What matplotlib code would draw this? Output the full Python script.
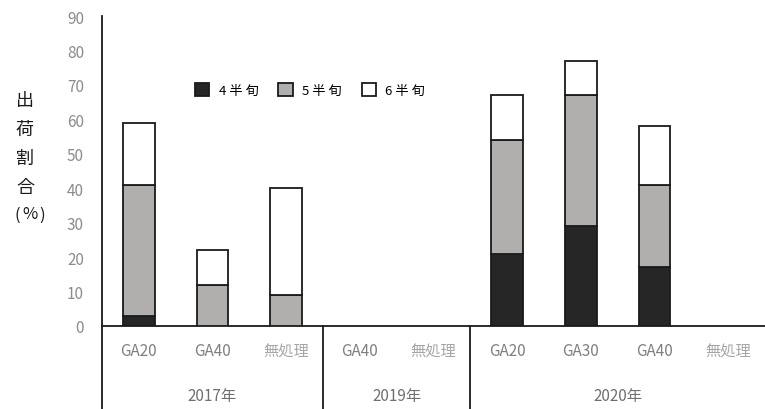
import matplotlib
matplotlib.use("Agg")
import matplotlib.pyplot as plt
from matplotlib.patches import Patch
import matplotlib.transforms as mtransforms
import numpy as np

plt.rcParams['font.family'] = ['Noto Sans CJK JP', 'DejaVu Sans']

# Data
categories = ["GA20", "GA40", "無処理", "GA40", "無処理", "GA20", "GA30", "GA40", "無処理"]
years = ["2017年", "2019年", "2020年"]
year_sizes = [3, 2, 4]
half4 = [3, 0, 0, 0, 0, 21, 29, 17, 0]
half5 = [38, 12, 9, 0, 0, 33, 38, 24, 0]
half6 = [18, 10, 31, 0, 0, 13, 10, 17, 0]
series_names = ["4 半 旬", "5 半 旬", "6 半 旬"]
yticks = list(range(0, 100, 10))

colors = ["#262626", "#b1aeae", "#ffffff"]

fig = plt.figure(figsize=(7.65, 4.1), dpi=100)
ax = fig.add_axes([102 / 765, 83 / 410, 663 / 765, 310 / 410])

x = np.arange(len(categories))
w = 0.43
b4 = np.array(half4)
b5 = np.array(half5)
b6 = np.array(half6)
for vals, bottom, c in [(b4, 0, colors[0]), (b5, b4, colors[1]), (b6, b4 + b5, colors[2])]:
    mask = vals > 0
    ax.bar(x[mask], vals[mask], width=w, bottom=(bottom if np.isscalar(bottom) else bottom[mask]),
           color=c, edgecolor="#1a1a1a", linewidth=1.3, zorder=3)

ax.set_xlim(-0.5, len(categories) - 0.5)
ax.set_ylim(0, 90)
ax.set_yticks(yticks)
ax.set_yticklabels([str(t) for t in yticks], color="#8c8c8c", fontsize=11)
ax.tick_params(axis="y", length=0, pad=13)
ax.set_xticks([])

for s in ["top", "right"]:
    ax.spines[s].set_visible(False)
ax.spines["left"].set_color("#1a1a1a")
ax.spines["bottom"].set_color("#1a1a1a")
ax.spines["left"].set_linewidth(1.3)
ax.spines["bottom"].set_linewidth(1.3)

# Category labels and year groups below the axis
trans = mtransforms.blended_transform_factory(ax.transData, fig.transFigure)
for i, lab in enumerate(categories):
    col = "#a6a6a6" if lab == "無処理" else "#7f7f7f"
    ax.text(i, 1 - 352 / 410, lab, transform=trans, ha="center", va="center",
            fontsize=11, color=col)

start = 0
bounds = [-0.5]
for yr, n in zip(years, year_sizes):
    center = start + (n - 1) / 2
    ax.text(center, 1 - 397 / 410, yr, transform=trans, ha="center", va="center",
            fontsize=11, color="#6f6f6f")
    start += n
    bounds.append(start - 0.5)

for bx in bounds[:-1]:
    ax.plot([bx, bx], [1 - 327 / 410, 0], transform=trans, color="#1a1a1a",
            linewidth=1.3, clip_on=False)

# Y axis label written vertically
for k, ch in enumerate("出荷割合"):
    fig.text(25 / 765, 1 - (101 + k * 29) / 410, ch, ha="center", va="center",
             fontsize=13, color="#1a1a1a")
for ch, px in [("(", 17), ("%", 30), (")", 42)]:
    fig.text(px / 765, 1 - 215 / 410, ch, ha="center", va="center",
             fontsize=12, color="#1a1a1a")

handles = [Patch(facecolor=c, edgecolor="#1a1a1a", linewidth=1.3) for c in colors]
ax.legend(handles, series_names, ncol=3, frameon=False, fontsize=9.5,
          handlelength=1.1, handleheight=1.1, handletextpad=0.7, columnspacing=1.5,
          loc="center left", bbox_to_anchor=((183 - 102) / 663, (327 - 91) / 310))

fig.savefig("out.png", dpi=100)
